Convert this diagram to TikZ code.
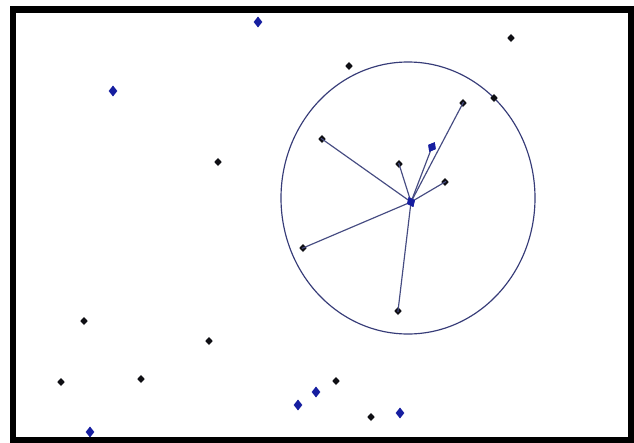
\documentclass[tikz,border=0pt]{standalone}
\usepackage{tikz}
\usetikzlibrary{shapes.geometric}
\definecolor{pointblue}{RGB}{22, 30, 160}
\definecolor{pointblack}{RGB}{15, 15, 20}
\definecolor{linkline}{RGB}{70, 76, 130}
\definecolor{ringline}{RGB}{55, 60, 120}

\begin{document}
\begin{tikzpicture}[x=0.03cm, y=-0.03cm,
    dot/.style={diamond, fill=pointblack, inner sep=0pt, minimum width=6.5pt, minimum height=7pt},
    seed/.style={diamond, fill=pointblue, inner sep=0pt, minimum width=7.5pt, minimum height=9.5pt},
    link/.style={linkline, line width=1pt, shorten <=-1pt, shorten >=-1pt}]
                \useasboundingbox (0,0) rectangle (634,443);
                \fill[white] (0,0) rectangle (634,443);
                \draw[black, line width=5.2pt] (13,9.5) rectangle (631,440.5);

                % Search circle
                \draw[ringline, line width=1pt] (408,198) ellipse (127 and 136);

                % Points outside
                \node[dot] (p1) at (511,38) {};
                \node[dot] (p2) at (349,66) {};
                \node[dot] (p3) at (494,98) {};
                \node[dot] (p4) at (218,162) {};
                \node[dot] (p5) at (84,321) {};
                \node[dot] (p6) at (209,341) {};
                \node[dot] (p7) at (61,382) {};
                \node[dot] (p8) at (141,379) {};
                \node[dot] (p9) at (336,381) {};
                \node[dot] (p10) at (371,417) {};

                % Neighbours inside
                \node[dot] (n1) at (463,103) {};
                \node[dot] (n2) at (322,139) {};
                \node[dot] (n3) at (399,164) {};
                \node[dot] (n4) at (445,182) {};
                \node[dot] (n5) at (303,248) {};
                \node[dot] (n6) at (398,311) {};

                % Blue points
                \node[seed] (b1) at (258,22) {};
                \node[seed] (b2) at (113,91) {};
                \node[seed, rotate=-30] (b3) at (432,147) {};
                \node[seed] (b4) at (298,405) {};
                \node[seed] (b5) at (316,392) {};
                \node[seed] (b6) at (400,413) {};
                \node[seed] (b7) at (90,432) {};
                \node[seed, rotate=25] (c) at (411,202) {};

                % Links to the query point
                \draw[link] (c.center) -- (n1.center);
                \draw[link] (c.center) -- (b3.center);
                \draw[link] (c.center) -- (n2.center);
                \draw[link] (c.center) -- (n3.center);
                \draw[link] (c.center) -- (n4.center);
                \draw[link] (c.center) -- (n5.center);
                \draw[link] (c.center) -- (n6.center);
                \node[seed, rotate=25] at (c) {};
                \node[seed, rotate=-30] at (b3) {};
            \end{tikzpicture}
\end{document}
